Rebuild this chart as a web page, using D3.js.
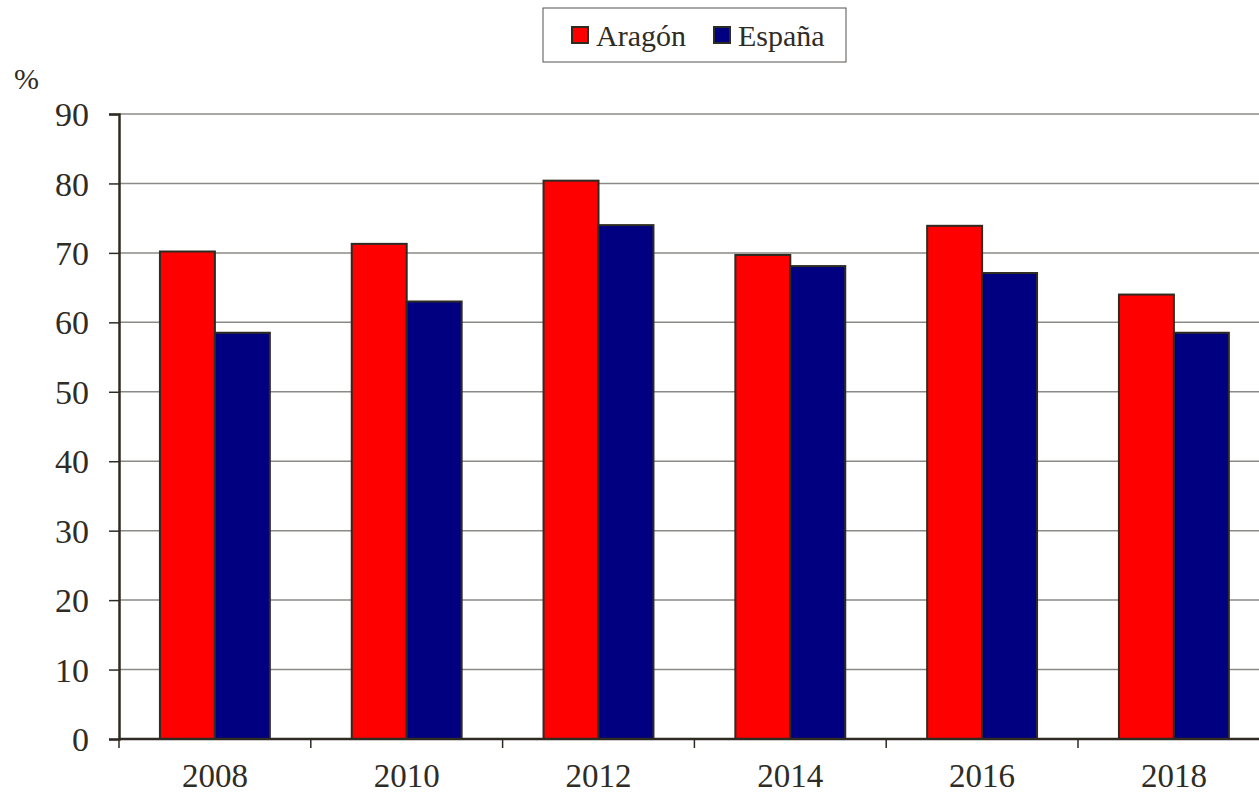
<!DOCTYPE html>
<html>
<head>
<meta charset="utf-8">
<script src="https://cdn.jsdelivr.net/npm/d3@7"></script>
<style>
	body { margin: 0; background: #fff; }
</style>
</head>
<body>
<svg width="1259" height="795"></svg>
<script>
const years = ['2008', '2010', '2012', '2014', '2016', '2018']
const seriesNames = ['Aragón', 'España']
const aragon = [70.2, 71.3, 80.4, 69.7, 73.9, 64.0]
const espana = [58.5, 63.0, 74.0, 68.1, 67.1, 58.5]
const yTicks = [0, 10, 20, 30, 40, 50, 60, 70, 80, 90]
const colors = ['#ff0000', '#000080']

const FONT = 'Liberation Serif, DejaVu Serif, serif'
const TXT = '#2f2c25'

const svg = d3.select('svg')
const pLeft = 119, pTop = 114, pBottom = 739
const pRight = pLeft + 6 * 191.8

// x scales: one for the years, one for the two bars inside each year
let x = d3.scaleBand().domain(years).range([pLeft, pRight])
let xIn = d3.scaleBand().domain(seriesNames)
	.range([0, x.bandwidth()]).paddingOuter(0.745).paddingInner(0)
let y = d3.scaleLinear().domain([0, 90]).range([pBottom, pTop])

// grid lines
svg.append('g')
	.selectAll('line')
	.data(yTicks.filter(d => d > 0)).enter().append('line')
	.attr('x1', pLeft).attr('x2', pRight)
	.attr('y1', d => y(d)).attr('y2', d => y(d))
	.attr('stroke', '#8a8a86').attr('stroke-width', 1.5)

// bars
let rows = years.map((yr, i) => ({ year: yr, vals: [aragon[i], espana[i]] }))
svg.append('g')
	.selectAll('g')
	.data(rows).enter().append('g')
	.attr('transform', d => `translate(${x(d.year)},0)`)
	.selectAll('rect')
	.data(d => d.vals.map((v, j) => ({ name: seriesNames[j], v: v, j: j }))).enter().append('rect')
	.attr('x', d => xIn(d.name))
	.attr('width', xIn.bandwidth())
	.attr('y', d => y(d.v))
	.attr('height', d => pBottom - y(d.v))
	.attr('fill', d => colors[d.j])
	.attr('stroke', '#2e2b22').attr('stroke-width', 2)

// y axis
let yAxis = d3.axisLeft(y).tickValues(yTicks).tickSize(10).tickPadding(20)
let gy = svg.append('g').attr('transform', `translate(${pLeft},0)`).call(yAxis)
	.attr('font-family', FONT).attr('font-size', 34)
gy.select('.domain').attr('stroke', '#2e2b22').attr('stroke-width', 2.5)
gy.selectAll('.tick line').attr('stroke', '#2e2b22').attr('stroke-width', 1.5)
gy.selectAll('.tick text').attr('fill', TXT).attr('dy', '0.34em')

// x axis with ticks between categories
let xb = d3.scaleLinear().domain([0, 6]).range([pLeft, pRight])
svg.append('line')
	.attr('x1', pLeft).attr('x2', pRight).attr('y1', pBottom).attr('y2', pBottom)
	.attr('stroke', '#2e2b22').attr('stroke-width', 2.5)
svg.append('g').selectAll('line')
	.data(d3.range(0, 7)).enter().append('line')
	.attr('x1', d => xb(d)).attr('x2', d => xb(d))
	.attr('y1', pBottom).attr('y2', pBottom + 9)
	.attr('stroke', '#2e2b22').attr('stroke-width', 1.5)
svg.append('g').selectAll('text')
	.data(years).enter().append('text')
	.attr('x', d => x(d) + x.bandwidth() / 2)
	.attr('y', 787)
	.attr('text-anchor', 'middle')
	.attr('font-family', FONT).attr('font-size', 33).attr('fill', TXT)
	.text(d => d)

// unit label
svg.append('text').attr('x', 14).attr('y', 89)
	.attr('font-family', FONT).attr('font-size', 30).attr('fill', TXT).text('%')

// legend
let legend = svg.append('g').attr('id', 'legend')
legend.append('rect')
	.attr('x', 543).attr('y', 8).attr('width', 303).attr('height', 54)
	.attr('fill', '#fff').attr('stroke', '#55534e').attr('stroke-width', 1)
let legX = [572, 714]
seriesNames.forEach((n, i) => {
	legend.append('rect')
		.attr('x', legX[i]).attr('y', 27).attr('width', 16).attr('height', 16)
		.attr('fill', colors[i]).attr('stroke', '#2e2b22').attr('stroke-width', 2)
	legend.append('text')
		.attr('x', legX[i] + 24).attr('y', 46)
		.attr('font-family', FONT).attr('font-size', 30).attr('fill', TXT)
		.text(n)
})
</script>
</body>
</html>
